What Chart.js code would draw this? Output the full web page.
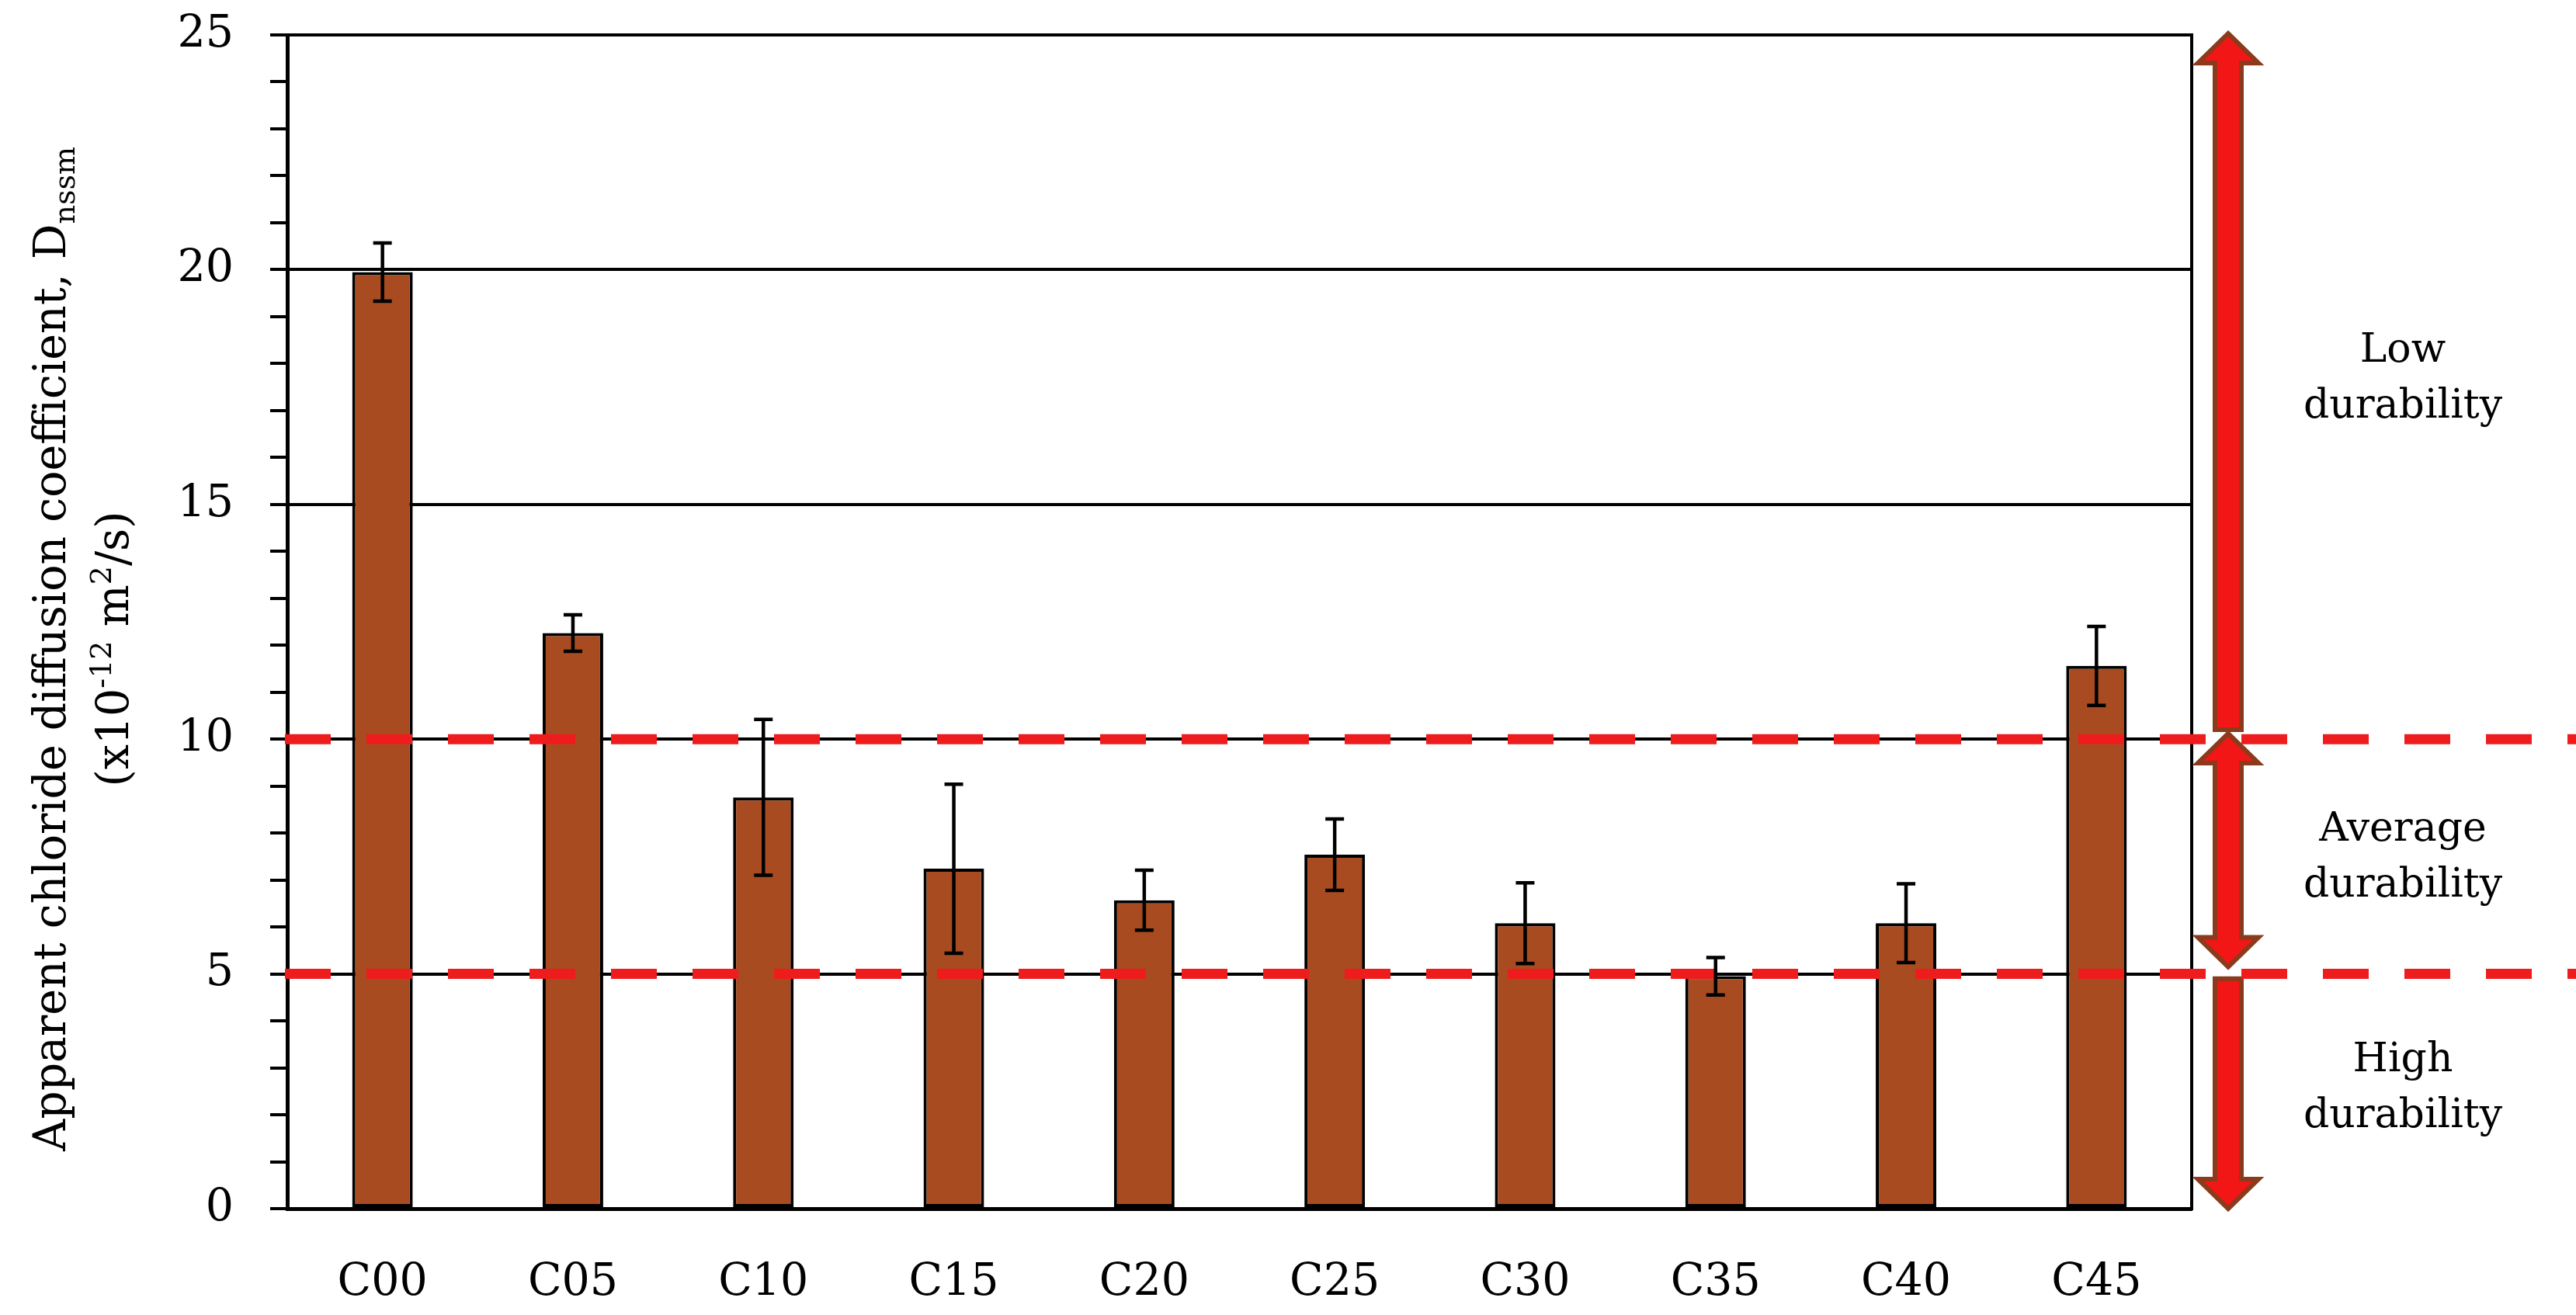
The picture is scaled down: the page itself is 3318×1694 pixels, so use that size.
<!DOCTYPE html>
<html>
<head>
<meta charset="utf-8">
<title>Apparent chloride diffusion coefficient</title>
<script src="https://cdn.jsdelivr.net/npm/chart.js@4.4.1/dist/chart.umd.min.js"></script>
<style>
    html, body { margin: 0; padding: 0; background: #fff; }
    canvas { display: block; }
</style>
</head>
<body>
<canvas id="diffusionChart" width="3318" height="1694"></canvas>
<script>
// data
const mixes = ['C00', 'C05', 'C10', 'C15', 'C20', 'C25', 'C30', 'C35', 'C40', 'C45'];
const dnssm = [19.95, 12.26, 8.76, 7.24, 6.57, 7.54, 6.08, 4.95, 6.08, 11.56];
const dnssmError = [0.62, 0.39, 1.66, 1.80, 0.64, 0.76, 0.86, 0.40, 0.84, 0.84];
const yTickLabels = [0, 5, 10, 15, 20, 25];
const limitLines = [5, 10];

// durability zones shown to the right of the plot (value = vertical centre of the text)
const zoneLabels = [
    { lines: ['Low', 'durability'], value: 17.74 },
    { lines: ['Average', 'durability'], value: 7.54 },
    { lines: ['High', 'durability'], value: 2.63 }
];
const zoneArrows = [
    { from: 10.2, to: 25.03, headFrom: false, headTo: true },
    { from: 10.12, to: 5.15, headFrom: true, headTo: true },
    { from: 4.9, to: 0, headFrom: false, headTo: true }
];

const FONT = 'DejaVu Serif';

document.addEventListener('DOMContentLoaded', function() {
    Chart.defaults.font.family = FONT;
    Chart.defaults.color = '#000';
    dibujarGrafico();
});

function drawArrow(ctx, x, yA, yB, headA, headB) {
    const s = 17, h = 39, L = 38;
    const d = yB > yA ? 1 : -1;
    ctx.beginPath();
    if (headA) {
        ctx.moveTo(x, yA);
        ctx.lineTo(x + h, yA + d * L);
        ctx.lineTo(x + s, yA + d * L);
    } else {
        ctx.moveTo(x + s, yA);
    }
    if (headB) {
        ctx.lineTo(x + s, yB - d * L);
        ctx.lineTo(x + h, yB - d * L);
        ctx.lineTo(x, yB);
        ctx.lineTo(x - h, yB - d * L);
        ctx.lineTo(x - s, yB - d * L);
    } else {
        ctx.lineTo(x + s, yB);
        ctx.lineTo(x - s, yB);
    }
    if (headA) {
        ctx.lineTo(x - s, yA + d * L);
        ctx.lineTo(x - h, yA + d * L);
    } else {
        ctx.lineTo(x - s, yA);
    }
    ctx.closePath();
    ctx.fillStyle = '#f21616';
    ctx.fill();
    ctx.lineWidth = 6;
    ctx.lineJoin = 'miter';
    ctx.strokeStyle = '#8a3b1c';
    ctx.stroke();
}

// draws a run of text pieces (normal / sub / superscript) centred on 0
function drawRich(ctx, parts) {
    let total = 0;
    parts.forEach(p => {
        ctx.font = p.size + 'px "' + FONT + '"';
        p.w = ctx.measureText(p.t).width;
        total += p.w;
    });
    let x = -total / 2;
    parts.forEach(p => {
        ctx.font = p.size + 'px "' + FONT + '"';
        ctx.fillText(p.t, x, p.dy || 0);
        x += p.w;
    });
}

const overlayPlugin = {
    id: 'overlay',
    afterDatasetsDraw(chart) {
        const ctx = chart.ctx;
        const area = chart.chartArea;
        const y = chart.scales.y;
        const meta = chart.getDatasetMeta(0);

        ctx.save();
        // right border of the plot area
        ctx.strokeStyle = '#000';
        ctx.lineWidth = 4;
        ctx.beginPath();
        ctx.moveTo(area.right, area.top - 2);
        ctx.lineTo(area.right, area.bottom + 2);
        ctx.stroke();

        // arrows
        const ax = area.right + 47;
        zoneArrows.forEach(a => {
            drawArrow(ctx, ax, y.getPixelForValue(a.from), y.getPixelForValue(a.to), a.headFrom, a.headTo);
        });

        // red dashed limits
        ctx.strokeStyle = '#ee1c1c';
        ctx.lineWidth = 13;
        ctx.lineCap = 'butt';
        ctx.setLineDash([59, 46]);
        limitLines.forEach(v => {
            const py = y.getPixelForValue(v);
            ctx.beginPath();
            ctx.moveTo(area.left - 3, py);
            ctx.lineTo(chart.width, py);
            ctx.stroke();
        });
        ctx.setLineDash([]);

        // error bars
        ctx.strokeStyle = '#000';
        ctx.lineWidth = 4.5;
        meta.data.forEach((bar, i) => {
            const top = y.getPixelForValue(dnssm[i] + dnssmError[i]);
            const bot = y.getPixelForValue(dnssm[i] - dnssmError[i]);
            ctx.beginPath();
            ctx.moveTo(bar.x, top);
            ctx.lineTo(bar.x, bot);
            ctx.moveTo(bar.x - 12, top);
            ctx.lineTo(bar.x + 12, top);
            ctx.moveTo(bar.x - 12, bot);
            ctx.lineTo(bar.x + 12, bot);
            ctx.stroke();
        });
        ctx.restore();
    },
    afterDraw(chart) {
        const ctx = chart.ctx;
        const y = chart.scales.y;
        ctx.save();
        ctx.fillStyle = '#000';

        // zone texts
        ctx.textAlign = 'center';
        ctx.textBaseline = 'alphabetic';
        ctx.font = '52px "' + FONT + '"';
        zoneLabels.forEach(z => {
            const c = y.getPixelForValue(z.value);
            ctx.fillText(z.lines[0], 3095, c - 18);
            ctx.fillText(z.lines[1], 3095, c + 54);
        });

        // y axis title, two rotated lines
        ctx.textAlign = 'left';
        ctx.save();
        ctx.translate(84, 836);
        ctx.rotate(-Math.PI / 2);
        drawRich(ctx, [
            { t: 'Apparent chloride diffusion coefficient, D', size: 57 },
            { t: 'nssm', size: 38, dy: 12 }
        ]);
        ctx.restore();
        ctx.save();
        ctx.translate(165, 836);
        ctx.rotate(-Math.PI / 2);
        drawRich(ctx, [
            { t: '(x10', size: 57 },
            { t: '-12', size: 38, dy: -22 },
            { t: ' m', size: 57 },
            { t: '2', size: 38, dy: -22 },
            { t: '/s)', size: 57 }
        ]);
        ctx.restore();
        ctx.restore();
    }
};

function dibujarGrafico() {
    const ctx = document.getElementById('diffusionChart').getContext('2d');

    new Chart(ctx, {
        type: 'bar',
        data: {
            labels: mixes,
            datasets: [{
                data: dnssm,
                backgroundColor: '#a84b20',
                borderColor: '#000',
                borderWidth: 4,
                borderSkipped: false,
                barPercentage: 0.318,
                categoryPercentage: 1
            }]
        },
        options: {
            responsive: false,
            animation: false,
            events: [],
            layout: {
                padding: { left: 0, right: 495, top: 45, bottom: 0 }
            },
            plugins: {
                legend: { display: false },
                tooltip: { enabled: false }
            },
            scales: {
                x: {
                    grid: { display: false, drawTicks: false },
                    border: { color: '#000', width: 5 },
                    ticks: {
                        font: { size: 57 },
                        color: '#000',
                        padding: 62
                    },
                    afterFit: function(scale) { scale.height = 137; }
                },
                y: {
                    min: 0,
                    max: 25,
                    border: { color: '#000', width: 5 },
                    grid: {
                        color: c => yTickLabels.includes(c.tick.value) ? '#000' : 'rgba(0,0,0,0)',
                        lineWidth: 4,
                        tickColor: '#000',
                        tickWidth: 4,
                        tickLength: 22
                    },
                    ticks: {
                        stepSize: 1,
                        autoSkip: false,
                        font: { size: 57 },
                        color: '#000',
                        padding: 47,
                        callback: v => yTickLabels.includes(v) ? String(v) : ''
                    },
                    afterFit: function(scale) {
                        scale.width = 370;
                        // keep the plot top fixed by the layout padding only
                        scale.paddingTop = 0;
                        scale.paddingBottom = 0;
                    }
                }
            }
        },
        plugins: [overlayPlugin]
    });
}
</script>
</body>
</html>
